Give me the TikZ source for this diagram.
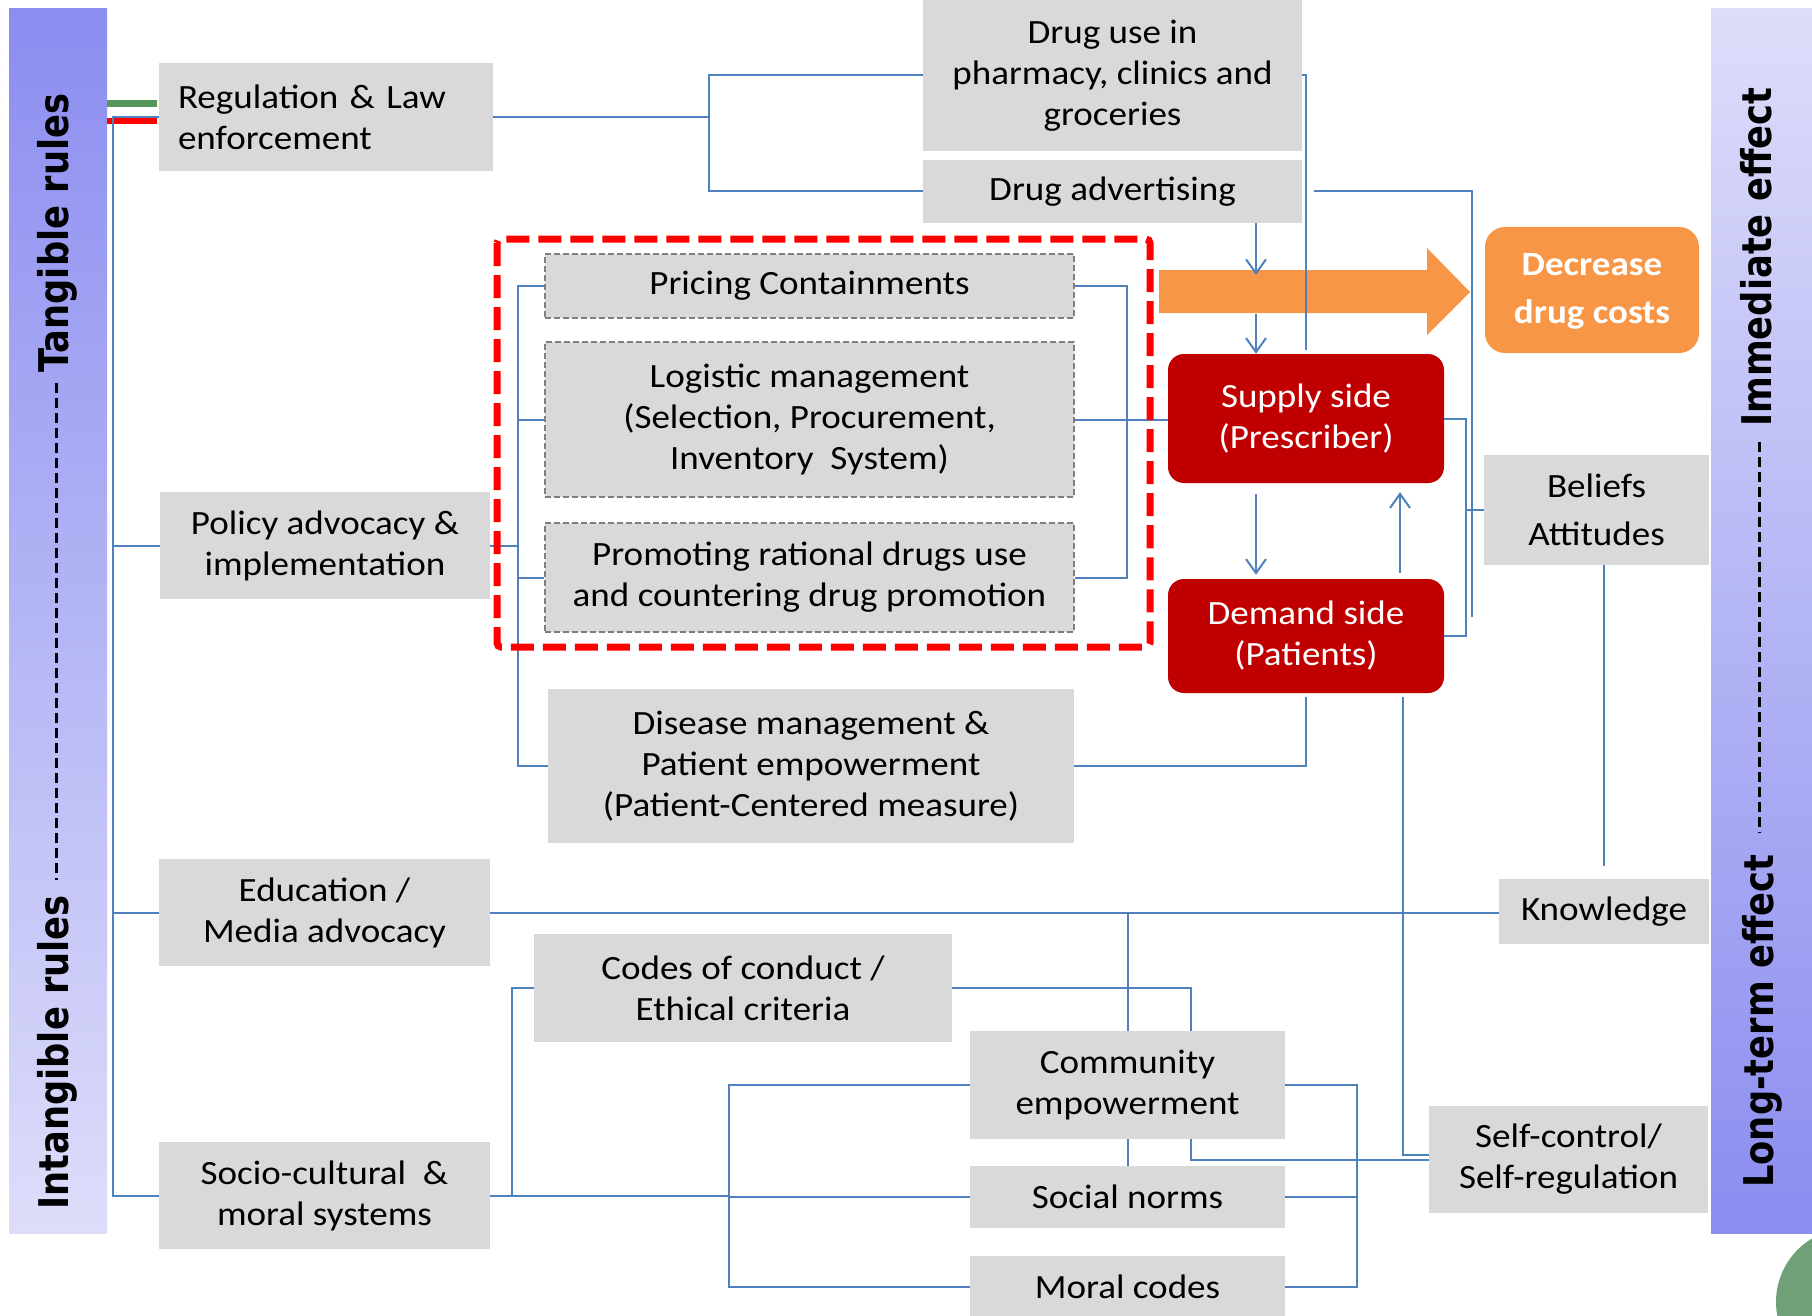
\documentclass[tikz,border=0pt]{standalone}
\usepackage{graphicx}
\usepackage{fontspec}
\setmainfont{Carlito}[FakeStretch=1.09]
\newfontfamily\barfont{DejaVu Sans}
\usetikzlibrary{arrows.meta,calc}
\definecolor{boxgray}{HTML}{D9D9D9}
\definecolor{lineblue}{HTML}{4F81BD}
\definecolor{darkred}{HTML}{C00000}
\definecolor{orangeA}{HTML}{F79646}
\definecolor{redA}{HTML}{FF0000}
\definecolor{greenA}{HTML}{55965A}
\definecolor{circgreen}{HTML}{70A078}
\definecolor{barDark}{HTML}{8B8DF0}
\definecolor{barLight}{HTML}{DDDDFA}
\definecolor{dashgray}{HTML}{7F7F7F}
\begin{document}
\begin{tikzpicture}[x=1pt,y=-1pt,
  line/.style={draw=lineblue, line width=2pt},
  arr/.style={draw=lineblue, line width=2pt, -{Straight Barb[length=14pt,width=20pt]}},
  gbox/.style={fill=boxgray, align=center, inner sep=0pt, font=\fontsize{34}{41}\selectfont},
  dbox/.style={gbox, draw=dashgray, line width=1.5pt, dash pattern=on 6pt off 3pt},
  rbox/.style={fill=darkred, rounded corners=16pt, text=white, align=center, inner sep=0pt, font=\fontsize{34}{41}\selectfont},
  bartext/.style={rotate=90, inner sep=0pt, font=\barfont\bfseries\fontsize{35.3}{40}\selectfont}
]
\useasboundingbox (0,0) rectangle (1812,1316);
\fill[white] (0,0) rectangle (1812,1316);

% side bars
\shade[top color=barDark, bottom color=barLight] (9,9) rectangle (107,1233);
\shade[top color=barLight, bottom color=barDark] (1711,9) rectangle (1812,1233);
\node[bartext, anchor=base west] (tang) at (68,373) {\scalebox{1}[1.16]{Tangible rules}};
\node[bartext, anchor=base west] (intang) at (68,1210) {\scalebox{1}[1.16]{Intangible rules}};
\draw[black, line width=3pt, dash pattern=on 10pt off 5pt] (56,383) -- (56,880);
\node[bartext, anchor=base west] (immed) at (1771,427) {\scalebox{1}[1.16]{Immediate effect}};
\node[bartext, anchor=base west] (longt) at (1773,1188) {\scalebox{1}[1.16]{Long-term effect}};
\draw[black, line width=3pt, dash pattern=on 10pt off 5pt] (1759,442) -- (1759,833);

% green circle
\fill[circgreen] (1850,1302) circle (74pt);

% green / red marks
\draw[greenA, line width=7pt] (107,103.5) -- (157,103.5);
\draw[redA, line width=6pt] (107,121) -- (157,121);

% orange arrow
\fill[orangeA] (1159,270) -- (1427,270) -- (1427,248) -- (1470,292) -- (1427,335) -- (1427,313) -- (1159,313) -- cycle;

% nodes
\node[gbox, minimum width=334pt, minimum height=108pt, text width=296pt, align=left] (reg) at (326,117) {Regulation \& Law\\enforcement};
\node[gbox, minimum width=379pt, minimum height=151pt] (druguse) at (1112.5,75.5) {Drug use in\\pharmacy, clinics and\\groceries};
\node[gbox, minimum width=379pt, minimum height=63pt] (adv) at (1112.5,191.5) {Drug advertising};
\node[dbox, minimum width=529pt, minimum height=64pt] (pricing) at (809.5,286) {Pricing Containments};
\node[dbox, minimum width=529pt, minimum height=155pt] (logistic) at (809.5,419.5) {Logistic management\\(Selection, Procurement,\\Inventory\ \ System)};
\node[dbox, minimum width=529pt, minimum height=109pt] (promoting) at (809.5,577.5) {Promoting rational drugs use\\and countering drug promotion};
\node[gbox, minimum width=330pt, minimum height=107pt] (policy) at (325,545.5) {Policy advocacy \&\\implementation};
\node[gbox, minimum width=526pt, minimum height=154pt] (disease) at (811,766) {Disease management \&\\Patient empowerment\\(Patient-Centered measure)};
\node[gbox, minimum width=331pt, minimum height=107pt] (education) at (324.5,912.5) {Education /\\Media advocacy};
\node[gbox, minimum width=331pt, minimum height=107pt] (socio) at (324.5,1195.5) {Socio-cultural\ \ \&\\moral systems};
\node[gbox, minimum width=418pt, minimum height=108pt] (codes) at (743,988) {Codes of conduct /\\Ethical criteria};
\node[gbox, minimum width=315pt, minimum height=108pt] (community) at (1127.5,1085) {Community\\empowerment};
\node[gbox, minimum width=315pt, minimum height=62pt] (social) at (1127.5,1197) {Social norms};
\node[gbox, minimum width=315pt, minimum height=62pt] (moral) at (1127.5,1287) {Moral codes};
\node[gbox, minimum width=279pt, minimum height=107pt] (selfctrl) at (1568.5,1159.5) {Self-control/\\Self-regulation};
\node[gbox, minimum width=210pt, minimum height=65pt] (knowledge) at (1604,911.5) {Knowledge};
\node[gbox, minimum width=225pt, minimum height=110pt] (beliefs) at (1596.5,510) {Beliefs\\[7pt]Attitudes};
\node[rbox, minimum width=276pt, minimum height=129pt] (supply) at (1306,418.5) {Supply side\\(Prescriber)};
\node[rbox, minimum width=276pt, minimum height=114pt] (demand) at (1306,636) {Demand side\\(Patients)};
\node[rbox, fill=orangeA, rounded corners=20pt, minimum width=214pt, minimum height=126pt, font=\bfseries\fontsize{34}{45}\selectfont] (decrease) at (1592,290) {\raisebox{-3pt}{\begin{tabular}{@{}c@{}}Decrease\\[3pt]drug costs\end{tabular}}};

% helper coordinates
\coordinate (tk) at (113,0);
\coordinate (b1) at (709,117);
\coordinate (pb) at (518,0);
\coordinate (rb) at (1127,0);
\coordinate (ax) at (1256,0);
\coordinate (ux) at (1400,0);
\coordinate (oa1) at (1256,275);
\coordinate (oa2) at (1256,314);
\coordinate (ar) at (1472,617);
\coordinate (sdb) at (1466,0);
\coordinate (dx) at (1403,0);
\coordinate (cl) at (512,0);
\coordinate (mb) at (729,0);
\coordinate (cr) at (1191,0);
\coordinate (sb) at (1357,0);

% connectors
\draw[line] (reg.west) -| (socio.west -| tk) -- (socio.west);
\draw[line] (policy.west) -- (policy.west -| tk);
\draw[line] (education.west) -- (education.west -| tk);
\draw[line] (reg.east) -- (b1);
\draw[line] (druguse.west) -| (b1) |- (adv.west);
\draw[line] (druguse.east) -| ([yshift=4pt]supply.north);
\draw[line] ([xshift=12pt]adv.east) -| (ar);
\draw[arr] (adv.south -| ax) -- (oa1);
\draw[arr] (oa2) -- (supply.north -| ax);
\draw[arr] ([yshift=-11pt]supply.south -| ax) -- ([yshift=4pt]demand.north -| ax);
\draw[arr] ([yshift=6pt]demand.north -| ux) -- ([yshift=-9pt]supply.south -| ux);
\draw[line] (supply.east) -| (demand.east -| sdb) -- (demand.east);
\draw[line] (beliefs.west) -- (beliefs.west -| sdb);
\draw[line] (knowledge.north |- beliefs.south) -- ([yshift=13pt]knowledge.north);
\draw[line] (education.east) -- (education.east -| knowledge.west);
\draw[line] (community.north) -- (community.north |- education.east);
\draw[line] (disease.east) -| ([yshift=-4pt]demand.south);
\draw[line] ([yshift=-4pt]demand.south -| dx) |- ([yshift=5pt]selfctrl.west);
\draw[line] (pricing.west) -| (disease.west -| pb) -- (disease.west);
\draw[line] (logistic.west) -- (logistic.west -| pb);
\draw[line] (promoting.west) -- (promoting.west -| pb);
\draw[line] (policy.east) -- (policy.east -| pb);
\draw[line] (pricing.east) -| (promoting.east -| rb) -- (promoting.east);
\draw[line] (logistic.east) -- (logistic.east -| supply.west);
\draw[line] (codes.west) -| (socio.east -| cl);
\draw[line] (socio.east) -- (socio.east -| mb);
\draw[line] (community.west) -| (moral.west -| mb) -- (moral.west);
\draw[line] (social.west) -- (social.west -| mb);
\draw[line] (codes.east) -| (community.north -| cr);
\draw[line] (community.south) -- (social.north);
\draw[line] (community.south -| cr) |- (selfctrl.west);
\draw[line] (community.east) -| (moral.east -| sb) -- (moral.east);
\draw[line] (social.east) -- (social.east -| sb);

% red dashed frame
\draw[redA, line width=7pt, dash pattern=on 23pt off 9pt, rounded corners=4pt] (497,239) rectangle (1150,647);
\end{tikzpicture}
\end{document}
